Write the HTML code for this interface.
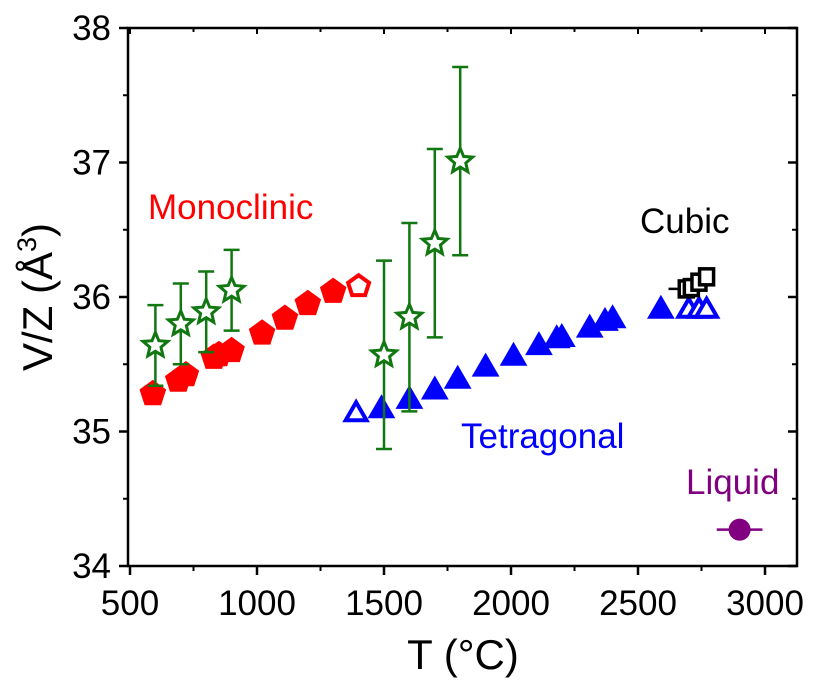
<!DOCTYPE html>
<html><head><meta charset="utf-8"><style>
body{margin:0;background:#fff;}
svg text{font-family:"Liberation Sans",Arial,sans-serif;}
</style></head><body>
<svg id="chart" width="813" height="678" viewBox="0 0 813 678" xmlns="http://www.w3.org/2000/svg">
<g id="axes"></g>
<g id="marks"></g>
<text x="148" y="219" font-size="35" fill="#ff0000">Monoclinic</text>
<text x="640" y="233" font-size="35" fill="#000">Cubic</text>
<text x="461" y="448" font-size="35" fill="#0000ff">Tetragonal</text>
<text x="686" y="494" font-size="35" fill="#800080">Liquid</text>
<text x="463" y="669" font-size="42" text-anchor="middle">T (°C)</text>
<text transform="translate(52,297) rotate(-90)" font-size="42" text-anchor="middle">V/Z (Å<tspan font-size="27" dy="-16">3</tspan><tspan dy="16">)</tspan></text>
</svg>
<script>
const xTicks=[500,1000,1500,2000,2500,3000];
const yTicks=[34,35,36,37,38];
const monoT=[590,690,720,830,850,900,1020,1110,1200,1300];
const monoV=[35.28,35.38,35.42,35.55,35.57,35.60,35.73,35.84,35.95,36.04];
const monoOpenT=[1400];
const monoOpenV=[36.08];
const starT=[600,700,800,900,1500,1600,1700,1800];
const starV=[35.64,35.80,35.89,36.05,35.57,35.85,36.40,37.01];
const starErr=[0.3,0.3,0.3,0.3,0.7,0.7,0.7,0.7];
const tetT=[1490,1600,1700,1790,1900,2010,2110,2180,2200,2310,2370,2400,2590];
const tetV=[35.18,35.25,35.32,35.40,35.49,35.57,35.65,35.70,35.71,35.78,35.83,35.85,35.92];
const tetOpenT=[1390,2700,2740,2770];
const tetOpenV=[35.15,35.92,35.92,35.92];
const cubT=[2690,2710,2740,2770];
const cubV=[36.06,36.07,36.11,36.15];
const cubXErr=[70,0,0,0];
const liqT=[2900];
const liqV=[34.27];
const liqXErr=[90];

const X0=130,XS=0.254,Y0=566,YS=134.5;
const x=t=>X0+XS*(t-500);
const y=v=>Y0-YS*(v-34);
const NS='http://www.w3.org/2000/svg';
function mk(tag,attrs,parent){const e=document.createElementNS(NS,tag);for(const k in attrs)e.setAttribute(k,attrs[k]);parent.appendChild(e);return e;}
const axes=document.getElementById('axes'),marks=document.getElementById('marks');
const L=128,R=797,T=28,B=566;
const frame=mk('rect',{x:L,y:T,width:R-L,height:B-T,fill:'none',stroke:'#000','stroke-width':2.5},axes);


xTicks.forEach(t=>{
  const tk=mk('line',{x1:x(t),x2:x(t),y1:B,y2:B+9,stroke:'#000','stroke-width':2.5},axes);
  
  
  mk('line',{x1:x(t),x2:x(t),y1:T,y2:T+6,stroke:'#000','stroke-width':2},axes);
  const mt=t+250;
  if(x(mt)<R){mk('line',{x1:x(mt),x2:x(mt),y1:B,y2:B+5,stroke:'#000','stroke-width':2},axes);mk('line',{x1:x(mt),x2:x(mt),y1:T,y2:T+4,stroke:'#000','stroke-width':2},axes);}
  const lb=mk('text',{x:x(t),y:B+49,'font-size':35,'text-anchor':'middle'},axes);
  lb.textContent=t;
  
  
});
yTicks.forEach(v=>{
  const tk=mk('line',{x1:L-9,x2:L,y1:y(v),y2:y(v),stroke:'#000','stroke-width':2.5},axes);
  
  
  mk('line',{x1:R-9,x2:R,y1:y(v),y2:y(v),stroke:'#000','stroke-width':2.5},axes);
  if(v<38){mk('line',{x1:L-5,x2:L,y1:y(v+0.5),y2:y(v+0.5),stroke:'#000','stroke-width':2},axes);mk('line',{x1:R-5,x2:R,y1:y(v+0.5),y2:y(v+0.5),stroke:'#000','stroke-width':2},axes);}
  const lb=mk('text',{x:L-17,y:y(v)+12,'font-size':35,'text-anchor':'end'},axes);
  lb.textContent=v;
  
  
});
function poly(n,r,cx,cy,rot,inner){let p=[];const m=inner?2*n:n;for(let i=0;i<m;i++){const rr=inner&&i%2?r*inner:r;const a=rot+i*2*Math.PI/m;p.push((cx+rr*Math.sin(a)).toFixed(1)+','+(cy-rr*Math.cos(a)).toFixed(1));}return p.join(' ');}
monoT.forEach((t,i)=>{
  const e=mk('polygon',{points:poly(5,14,x(t),y(monoV[i]),0),fill:'#ff0000'},marks);
  
  
});
monoOpenT.forEach((t,i)=>{
  const e=mk('polygon',{points:poly(5,11,x(t),y(monoOpenV[i]),0),fill:'#fff',stroke:'#ff0000','stroke-width':4},marks);
  
  
});
tetT.forEach((t,i)=>{
  const e=mk('polygon',{points:poly(3,16,x(t),y(tetV[i])+3,0),fill:'#0000ff'},marks);
  
  
});
tetOpenT.forEach((t,i)=>{
  const e=mk('polygon',{points:poly(3,12,x(t),y(tetOpenV[i])+3,0),fill:'#fff',stroke:'#0000ff','stroke-width':4},marks);
  
  
});
starT.forEach((t,i)=>{
  const cx=x(t),c='#117711';
  const eb=mk('path',{d:`M${cx},${y(starV[i]+starErr[i])}V${y(starV[i]-starErr[i])}M${cx-8},${y(starV[i]+starErr[i])}h16M${cx-8},${y(starV[i]-starErr[i])}h16`,stroke:c,'stroke-width':2.5,fill:'none'},marks);
  
  
  const e=mk('polygon',{points:poly(5,13,cx,y(starV[i]),0,0.45),fill:'#fff',stroke:c,'stroke-width':3},marks);
  
  
});
cubT.forEach((t,i)=>{
  const cx=x(t),cy=y(cubV[i]);
  if(cubXErr[i]){const eb=mk('line',{x1:x(t-cubXErr[i]),x2:x(t+cubXErr[i]),y1:cy,y2:cy,stroke:'#000','stroke-width':2.5},marks);
    
    }
  const e=mk('rect',{x:cx-7,y:cy-8,width:14,height:16,fill:'#fff',stroke:'#000','stroke-width':3.5},marks);
  
  
});
liqT.forEach((t,i)=>{
  const cy=y(liqV[i]);
  const eb=mk('line',{x1:x(t-liqXErr[i]),x2:x(t+liqXErr[i]),y1:cy,y2:cy,stroke:'#800080','stroke-width':2.5},marks);
  
  
  const e=mk('circle',{cx:x(t),cy:cy,r:11,fill:'#800080'},marks);
  
  
});
</script>
</body></html>
